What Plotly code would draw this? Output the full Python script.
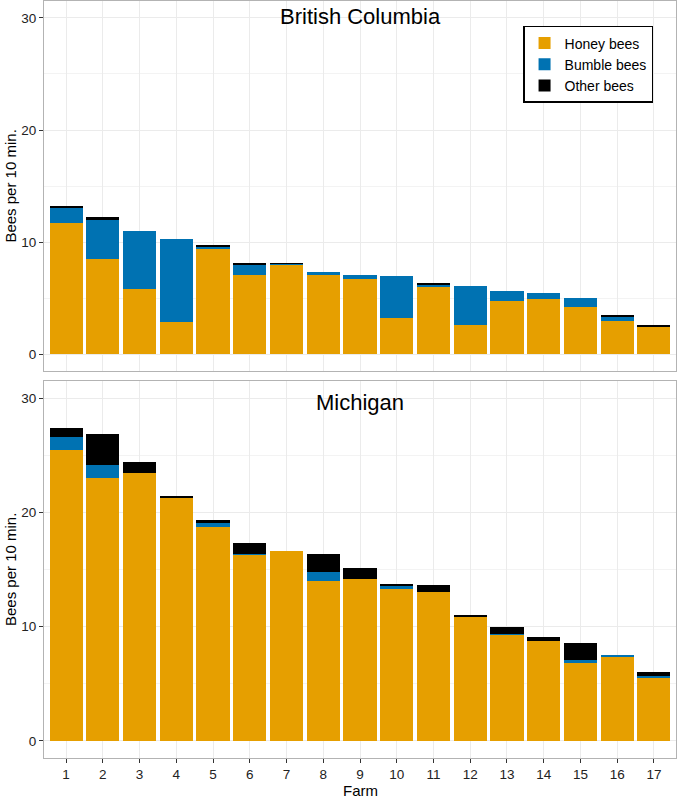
import plotly.graph_objects as go
from plotly.subplots import make_subplots

farms = list(range(1, 18))
tick_labels = [str(f) for f in farms]

bc_honey = [11.73, 8.5, 5.86, 2.89, 9.38, 7.11, 8.0, 7.11, 6.73, 3.24, 5.98, 2.59, 4.73, 4.97, 4.26, 3.0, 2.45]
bc_bumble = [1.34, 3.5, 5.15, 7.38, 0.23, 0.87, 0.1, 0.24, 0.38, 3.75, 0.21, 3.54, 0.9, 0.51, 0.74, 0.33, 0.02]
bc_other = [0.14, 0.26, 0.0, 0.0, 0.15, 0.12, 0.02, 0.0, 0.0, 0.0, 0.18, 0.0, 0.0, 0.0, 0.0, 0.18, 0.15]

mi_honey = [25.5, 23.0, 23.41, 21.31, 18.69, 16.3, 16.59, 13.97, 14.17, 13.32, 13.0, 10.9, 9.27, 8.72, 6.79, 7.38, 5.49]
mi_bumble = [1.08, 1.17, 0.0, 0.0, 0.38, 0.05, 0.0, 0.78, 0.03, 0.24, 0.0, 0.0, 0.05, 0.0, 0.27, 0.11, 0.2]
mi_other = [0.85, 2.71, 1.02, 0.09, 0.29, 1.0, 0.0, 1.58, 0.9, 0.11, 0.67, 0.09, 0.68, 0.35, 1.54, 0.0, 0.32]

series_names = ["Honey bees", "Bumble bees", "Other bees"]
colors = ["#E69F00", "#0072B2", "#000000"]

fig = make_subplots(rows=2, cols=1, shared_xaxes=True, vertical_spacing=0.013)

for row, data in [(1, [bc_honey, bc_bumble, bc_other]), (2, [mi_honey, mi_bumble, mi_other])]:
    for name, vals, col in zip(series_names, data, colors):
        fig.add_trace(go.Bar(
            x=farms, y=vals, name=name, marker=dict(color=col, line=dict(width=0)),
            showlegend=(row == 1), legendgroup=name,
        ), row=row, col=1)

fig.update_layout(
    width=678, height=798,
    barmode="stack", bargap=0.1,
    plot_bgcolor="white", paper_bgcolor="white",
    margin=dict(l=44, r=2, t=1, b=40, autoexpand=False),
    font=dict(family="Liberation Sans, Arial, sans-serif", color="#000000"),
    legend=dict(x=0.758, y=0.967, xanchor="left", yanchor="top",
                bgcolor="white", bordercolor="black", borderwidth=1.5,
                font=dict(size=14), tracegroupgap=0, itemwidth=30),
)

fig.update_layout(
    yaxis=dict(domain=[0.511, 1.0]),
    yaxis2=dict(domain=[0.0, 0.498]),
)

for r in (1, 2):
    fig.update_yaxes(
        range=[-1.5, 31.5], tickvals=[0, 10, 20, 30], showgrid=True, gridcolor="#ebebeb",
        minor=dict(tickvals=[5, 15, 25], showgrid=True, gridcolor="#f3f3f3", ticks=""),
        zeroline=False, showline=True, mirror=True, linecolor="#b3b3b3", linewidth=1,
        ticks="outside", ticklen=4, tickcolor="#333333", tickfont=dict(size=13.5, color="#222222"),
        automargin=False,
        row=r, col=1)
    fig.update_xaxes(
        range=[0.4, 17.6], tickvals=farms, ticktext=tick_labels, showgrid=True, gridcolor="#ebebeb",
        zeroline=False, showline=True, mirror=True, linecolor="#b3b3b3", linewidth=1,
        automargin=False,
        row=r, col=1)

fig.update_xaxes(showticklabels=False, ticks="", row=1, col=1)
fig.update_xaxes(ticks="outside", ticklen=4, tickcolor="#333333", tickfont=dict(size=13.5, color="#222222"),
                 row=2, col=1)

# axis titles
fig.add_annotation(text="Farm", x=0.5, y=-0.0435, xref="paper", yref="paper", showarrow=False,
                   font=dict(size=15), xanchor="center", yanchor="middle")
fig.add_annotation(text="Bees per 10 min.", x=-0.053, y=0.7555, xref="paper", yref="paper", showarrow=False,
                   font=dict(size=15), textangle=-90, xanchor="center", yanchor="middle")
fig.add_annotation(text="Bees per 10 min.", x=-0.053, y=0.249, xref="paper", yref="paper", showarrow=False,
                   font=dict(size=15), textangle=-90, xanchor="center", yanchor="middle")

fig.add_annotation(text="British Columbia", x=9, y=30.1, xref="x", yref="y", showarrow=False,
                   font=dict(size=22), yanchor="middle")
fig.add_annotation(text="Michigan", x=9, y=29.6, xref="x2", yref="y2", showarrow=False,
                   font=dict(size=22), yanchor="middle")

fig.write_html("out.html", config={"displayModeBar": False},
               post_script="document.body.style.margin='0';document.body.style.overflow='hidden';")
